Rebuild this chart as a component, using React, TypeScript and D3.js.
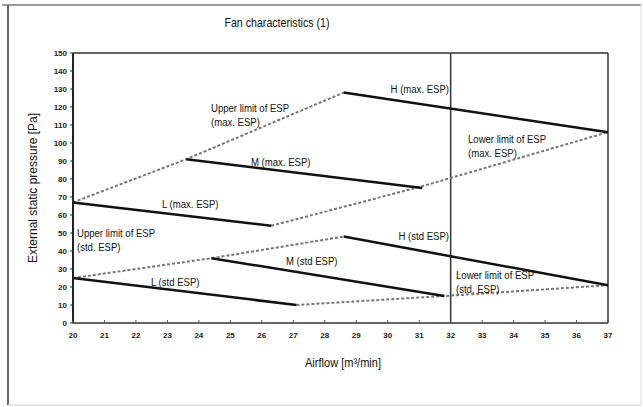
import React from "react";
import * as d3 from "d3";

const xTicks = d3.range(20, 38, 1);
const yTicks = d3.range(0, 151, 10);

// solid fan curves [airflow, pressure]
const lMax: [number, number][] = [[20, 67], [26.3, 54]];
const mMax: [number, number][] = [[23.6, 91], [31.1, 75]];
const hMax: [number, number][] = [[28.6, 128], [37, 106]];
const lStd: [number, number][] = [[20, 25], [27.1, 10]];
const mStd: [number, number][] = [[24.4, 36], [31.8, 15]];
const hStd: [number, number][] = [[28.6, 48], [37, 21]];

// dashed limit lines
const upperMax: [number, number][] = [[20, 67], [23.6, 91], [28.6, 128]];
const lowerMax: [number, number][] = [[26.3, 54], [31.1, 76], [37, 106]];
const upperStd: [number, number][] = [[20, 25], [24.4, 36], [28.6, 48]];
const lowerStd: [number, number][] = [[27.1, 10], [31.8, 15], [37, 21]];

const solidSeries = [lMax, mMax, hMax, lStd, mStd, hStd];
const dashedSeries = [upperMax, lowerMax, upperStd, lowerStd];

const annotations: { lines: string[]; x: number; y: number; anchor: string }[] = [
  { lines: ["Upper limit of ESP", "(max. ESP)"], x: 211, y: 112, anchor: "start" },
  { lines: ["M (max. ESP)"], x: 251, y: 166, anchor: "start" },
  { lines: ["L (max. ESP)"], x: 162, y: 208, anchor: "start" },
  { lines: ["H (max. ESP)"], x: 449, y: 93, anchor: "end" },
  { lines: ["Lower limit of ESP", "(max. ESP)"], x: 468, y: 143, anchor: "start" },
  { lines: ["Upper limit of ESP", "(std. ESP)"], x: 77, y: 237, anchor: "start" },
  { lines: ["H (std ESP)"], x: 449, y: 240, anchor: "end" },
  { lines: ["M (std ESP)"], x: 286, y: 265, anchor: "start" },
  { lines: ["L (std ESP)"], x: 151, y: 286, anchor: "start" },
  { lines: ["Lower limit of ESP", "(std. ESP)"], x: 456, y: 279, anchor: "start" },
];

const FONT = "'Liberation Sans', Arial, sans-serif";

export default function App() {
  const W = 643, H = 407;
  const x = d3.scaleLinear().domain([20, 37]).range([73, 608]);
  const y = d3.scaleLinear().domain([0, 150]).range([323, 53]);
  const line = d3.line<[number, number]>().x((d) => x(d[0])).y((d) => y(d[1]));

  return (
    <svg width={W} height={H} style={{ position: "absolute", left: 0, top: 0, background: "#fff" }} fontFamily={FONT}>
      {/* outer frame */}
      <line x1={2} y1={5} x2={641} y2={5} stroke="#999" strokeWidth={2} />
      <line x1={8} y1={5} x2={8} y2={405} stroke="#666" strokeWidth={2} />
      <line x1={8} y1={405} x2={641} y2={405} stroke="#ccc" strokeWidth={1} />
      <line x1={641} y1={5} x2={641} y2={405} stroke="#ddd" strokeWidth={1} />

      <text transform="translate(277,27) scale(0.85,1)" textAnchor="middle" fontSize={12.5} fill="#111">Fan characteristics (1)</text>

      {/* plot frame */}
      <line x1={x(20)} y1={y(150)} x2={x(37)} y2={y(150)} stroke="#333" strokeWidth={1.5} />
      <line x1={x(37)} y1={y(150)} x2={x(37)} y2={y(0)} stroke="#333" strokeWidth={1.5} />
      <line x1={x(32)} y1={y(150)} x2={x(32)} y2={y(0)} stroke="#333" strokeWidth={1.5} />
      <line x1={x(20)} y1={y(0)} x2={x(37)} y2={y(0)} stroke="#333" strokeWidth={1.5} />
      <line x1={x(20)} y1={y(150)} x2={x(20)} y2={y(0)} stroke="#222" strokeWidth={2} />

      {/* y ticks */}
      {yTicks.map((t) => (
        <g key={"y" + t}>
          <line x1={x(20) - 3} x2={x(20)} y1={y(t)} y2={y(t)} stroke="#333" />
          <text x={67} y={y(t) + 3} textAnchor="end" fontSize={8} fontWeight="bold" fill="#222">{t}</text>
        </g>
      ))}
      {/* x ticks */}
      {xTicks.map((t) => (
        <g key={"x" + t}>
          <line x1={x(t)} x2={x(t)} y1={y(0)} y2={y(0) - 3} stroke="#555" />
          <text x={x(t)} y={y(0) + 15} textAnchor="middle" fontSize={8} fontWeight="bold" fill="#222">{t}</text>
        </g>
      ))}

      <text transform={`translate(37,${(y(0) + y(150)) / 2}) rotate(-90)`} textAnchor="middle" fontSize={12} fill="#111">External static pressure [Pa]</text>
      <text transform="translate(343,367) scale(0.92,1)" textAnchor="middle" fontSize={12} fill="#111">Airflow [m³/min]</text>

      {dashedSeries.map((s, i) => (
        <path key={"d" + i} d={line(s) || ""} fill="none" stroke="#777" strokeWidth={2} strokeDasharray="3,2" />
      ))}
      {solidSeries.map((s, i) => (
        <path key={"s" + i} d={line(s) || ""} fill="none" stroke="#111" strokeWidth={2.5} />
      ))}

      {annotations.map((a, i) => (
        <text key={"a" + i} transform={`translate(${a.x},${a.y}) scale(0.87,1)`} textAnchor={a.anchor as any} fontSize={11} fill="#111">
          {a.lines.map((l, j) => (
            <tspan key={j} x={0} dy={j === 0 ? 0 : 14}>{l}</tspan>
          ))}
        </text>
      ))}
    </svg>
  );
}
